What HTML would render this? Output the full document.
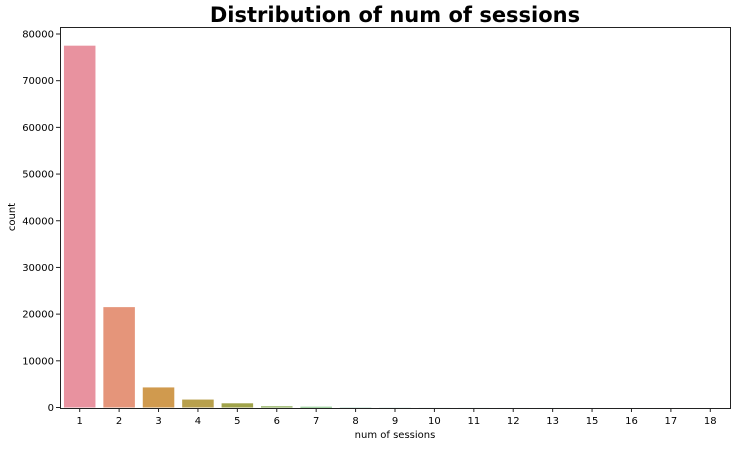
<!DOCTYPE html>
<html><head><meta charset="utf-8"><style>
body{margin:0;background:#fff;font-family:"Liberation Sans","DejaVu Sans",sans-serif}
svg text{font-family:"DejaVu Sans","Liberation Sans",sans-serif}
</style></head><body>
<svg id="chart" width="736" height="446">
<text x="395" y="22" text-anchor="middle" font-size="21" font-weight="bold">Distribution of num of sessions</text>
<g id="bars"></g>
<g id="yticks"></g>
<g id="xticks"></g>
<line x1="60.5" y1="27" x2="60.5" y2="408" stroke="#222" stroke-width="1"/>
<line x1="730.5" y1="27" x2="730.5" y2="408" stroke="#222" stroke-width="1"/>
<line x1="60" y1="27.5" x2="731" y2="27.5" stroke="#222" stroke-width="1"/>
<line x1="60" y1="408.5" x2="731" y2="408.5" stroke="#222" stroke-width="1"/>
<text x="395" y="438" text-anchor="middle" font-size="10">num of sessions</text>
<text transform="translate(15,217) rotate(-90)" text-anchor="middle" font-size="10">count</text>
</svg>
<script>
const categories=["1","2","3","4","5","6","7","8","9","10","11","12","13","15","16","17","18"];
const counts=[77500,21500,4300,1700,900,250,150,40,20,10,8,5,4,3,2,2,1];
const colors=["#e8929f","#e5957a","#d09a4e","#b8a04c","#a0a34a","#83a74a","#4fae4f","#4fae80","#50ac96","#52aaa6","#54a8b5","#57a5c6","#5fa0dc","#929ae6","#b58fe6","#d687e2","#e58bc4"];
const yTicks=[0,10000,20000,30000,40000,50000,60000,70000,80000];
const NS="http://www.w3.org/2000/svg";
const x0=60,x1=730,yBase=407.5,yTopVal=80000,yTopPx=34;
const band=(x1-x0)/categories.length;
function xPos(i){return x0+band*i+band/2;}
function yPos(v){return yBase-(v/yTopVal)*(yBase-yTopPx);}
const bars=document.getElementById('bars');
categories.forEach((c,i)=>{
  const r=document.createElementNS(NS,'rect');
  const w=band*0.8;
  r.setAttribute('x',xPos(i)-w/2);
  r.setAttribute('y',yPos(counts[i]));
  r.setAttribute('width',w);
  r.setAttribute('height',yBase-yPos(counts[i]));
  r.setAttribute('fill',colors[i]);
  
  
  bars.appendChild(r);
  const t=document.createElementNS(NS,'text');
  t.setAttribute('x',xPos(i));t.setAttribute('y',424);
  t.setAttribute('text-anchor','middle');t.setAttribute('font-size','10');
  t.textContent=c;
  
  
  document.getElementById('xticks').appendChild(t);
  const l=document.createElementNS(NS,'line');
  l.setAttribute('x1',xPos(i));l.setAttribute('x2',xPos(i));
  l.setAttribute('y1',408);l.setAttribute('y2',412);l.setAttribute('stroke','#222');
  
  
  document.getElementById('xticks').appendChild(l);
});
yTicks.forEach(v=>{
  const y=yPos(v);
  const l=document.createElementNS(NS,'line');
  l.setAttribute('x1',56);l.setAttribute('x2',60);
  l.setAttribute('y1',y);l.setAttribute('y2',y);l.setAttribute('stroke','#222');
  
  
  document.getElementById('yticks').appendChild(l);
  const t=document.createElementNS(NS,'text');
  t.setAttribute('x',54);t.setAttribute('y',y+3.5);
  t.setAttribute('text-anchor','end');t.setAttribute('font-size','10');
  t.textContent=v;
  
  
  document.getElementById('yticks').appendChild(t);
});
</script>
</body></html>
